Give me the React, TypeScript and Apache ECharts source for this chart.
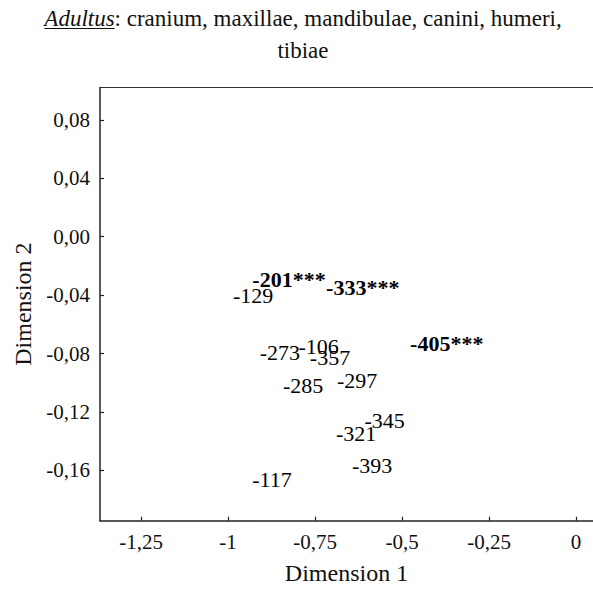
import React, { useEffect, useRef } from "react";
import * as echarts from "echarts";

const regularLabels = ["-129", "-273", "-106", "-357", "-285", "-297", "-345", "-321", "-393", "-117"];
const regularDim1 = [-0.928, -0.851, -0.74, -0.707, -0.7845, -0.629, -0.55, -0.632, -0.586, -0.8736];
const regularDim2 = [-0.04, -0.079, -0.0749, -0.0824, -0.1016, -0.0988, -0.1262, -0.1345, -0.157, -0.1666];

const boldLabels = ["-201***", "-333***", "-405***"];
const boldDim1 = [-0.825, -0.613, -0.3716];
const boldDim2 = [-0.029, -0.0345, -0.0728];

const xTicks = [-1.25, -1, -0.75, -0.5, -0.25, 0];
const yTicks = [-0.16, -0.12, -0.08, -0.04, 0, 0.04, 0.08];

const FONT = '"Liberation Serif", "Times New Roman", serif';
const TITLE_ITALIC = "Adultus";
const TITLE_REST = ": cranium, maxillae, mandibulae, canini, humeri,";
const TITLE_LINE2 = "tibiae";

export default function App() {
  const ref = useRef<HTMLDivElement>(null);
  useEffect(() => {
    if (!ref.current) return;
    const chart = echarts.init(ref.current, null, { renderer: "svg" });
    const titleSize = 23;
    const titleCx = 303;
    const cv = document.createElement("canvas").getContext("2d")!;
    cv.font = `italic ${titleSize}px ${FONT}`;
    const wA = cv.measureText(TITLE_ITALIC).width;
    cv.font = `${titleSize}px ${FONT}`;
    const wR = cv.measureText(TITLE_REST).width;
    const startX = titleCx - (wA + wR) / 2;
    const underlineY = 28.5;

    const mk = (labels: string[], xs: number[], ys: number[]) =>
      labels.map((n, i) => ({ name: n, value: [xs[i], ys[i]] }));

    const labelBase = {
      show: true,
      position: "inside",
      formatter: "{b}",
      fontFamily: FONT,
      fontSize: 22,
      color: "#000",
      textBorderWidth: 0,
      textBorderColor: "transparent",
      opacity: 1,
    };

    chart.setOption({
      animation: false,
      backgroundColor: "#fff",
      title: {
        text: `{i|${TITLE_ITALIC}}${TITLE_REST}\n${TITLE_LINE2}`,
        left: titleCx,
        top: 2,
        padding: 0,
        textAlign: "center",
        textStyle: {
          fontFamily: FONT,
          fontSize: titleSize,
          fontWeight: "normal",
          color: "#111",
          lineHeight: 32,
          rich: {
            i: { fontFamily: FONT, fontSize: titleSize, fontStyle: "italic", color: "#111", lineHeight: 32 },
          },
        },
      },
      graphic: [
        {
          type: "line",
          shape: { x1: startX, y1: underlineY, x2: startX + wA, y2: underlineY },
          style: { stroke: "#111", lineWidth: 1.2 },
        },
      ],
      grid: { left: 100, top: 87.5, right: 0, bottom: 70.3, containLabel: false },
      xAxis: [
        {
          type: "value",
          min: -1.368,
          max: 0.0487,
          name: "Dimension 1",
          nameLocation: "middle",
          nameGap: 40,
          nameTextStyle: { fontFamily: FONT, fontSize: 24, color: "#111" },
          axisLine: { show: true, onZero: false, lineStyle: { color: "#222", width: 1.5 } },
          axisTick: { show: true, inside: true, length: 4, customValues: xTicks, lineStyle: { color: "#222", width: 1.2 } },
          axisLabel: {
            show: true,
            customValues: xTicks,
            margin: 11,
            fontFamily: FONT,
            fontSize: 21,
            color: "#111",
            formatter: (v: number) => String(v).replace(".", ","),
          },
          splitLine: { show: false },
        },
        {
          type: "value",
          position: "top",
          min: -1.368,
          max: 0.0487,
          axisLine: { show: true, onZero: false, lineStyle: { color: "#333", width: 1.2 } },
          axisTick: { show: false },
          axisLabel: { show: false },
          splitLine: { show: false },
        },
      ],
      yAxis: {
        type: "value",
        min: -0.1945,
        max: 0.1022,
        name: "Dimension 2",
        nameLocation: "middle",
        nameGap: 63,
        nameTextStyle: { fontFamily: FONT, fontSize: 24, color: "#111" },
        axisLine: { show: true, onZero: false, lineStyle: { color: "#222", width: 1.5 } },
        axisTick: { show: true, inside: true, length: 4, customValues: yTicks, lineStyle: { color: "#222", width: 1.2 } },
        axisLabel: {
          show: true,
          customValues: yTicks,
          margin: 10,
          fontFamily: FONT,
          fontSize: 21,
          color: "#111",
          formatter: (v: number) => v.toFixed(2).replace(".", ",").replace("-0,00", "0,00"),
        },
        splitLine: { show: false },
      },
      series: [
        {
          type: "scatter",
          xAxisIndex: 0,
          symbolSize: 1,
          itemStyle: { color: "rgba(0,0,0,0)" },
          emphasis: { disabled: true },
          data: mk(regularLabels, regularDim1, regularDim2),
          label: { ...labelBase },
        },
        {
          type: "scatter",
          xAxisIndex: 0,
          symbolSize: 1,
          itemStyle: { color: "rgba(0,0,0,0)" },
          emphasis: { disabled: true },
          data: mk(boldLabels, boldDim1, boldDim2),
          label: { ...labelBase, fontWeight: "bold" },
        },
      ],
    });
    return () => chart.dispose();
  }, []);
  return (
    <div
      ref={ref}
      style={{ position: "absolute", left: 0, top: 0, width: 593, height: 591, background: "#fff" }}
    />
  );
}
